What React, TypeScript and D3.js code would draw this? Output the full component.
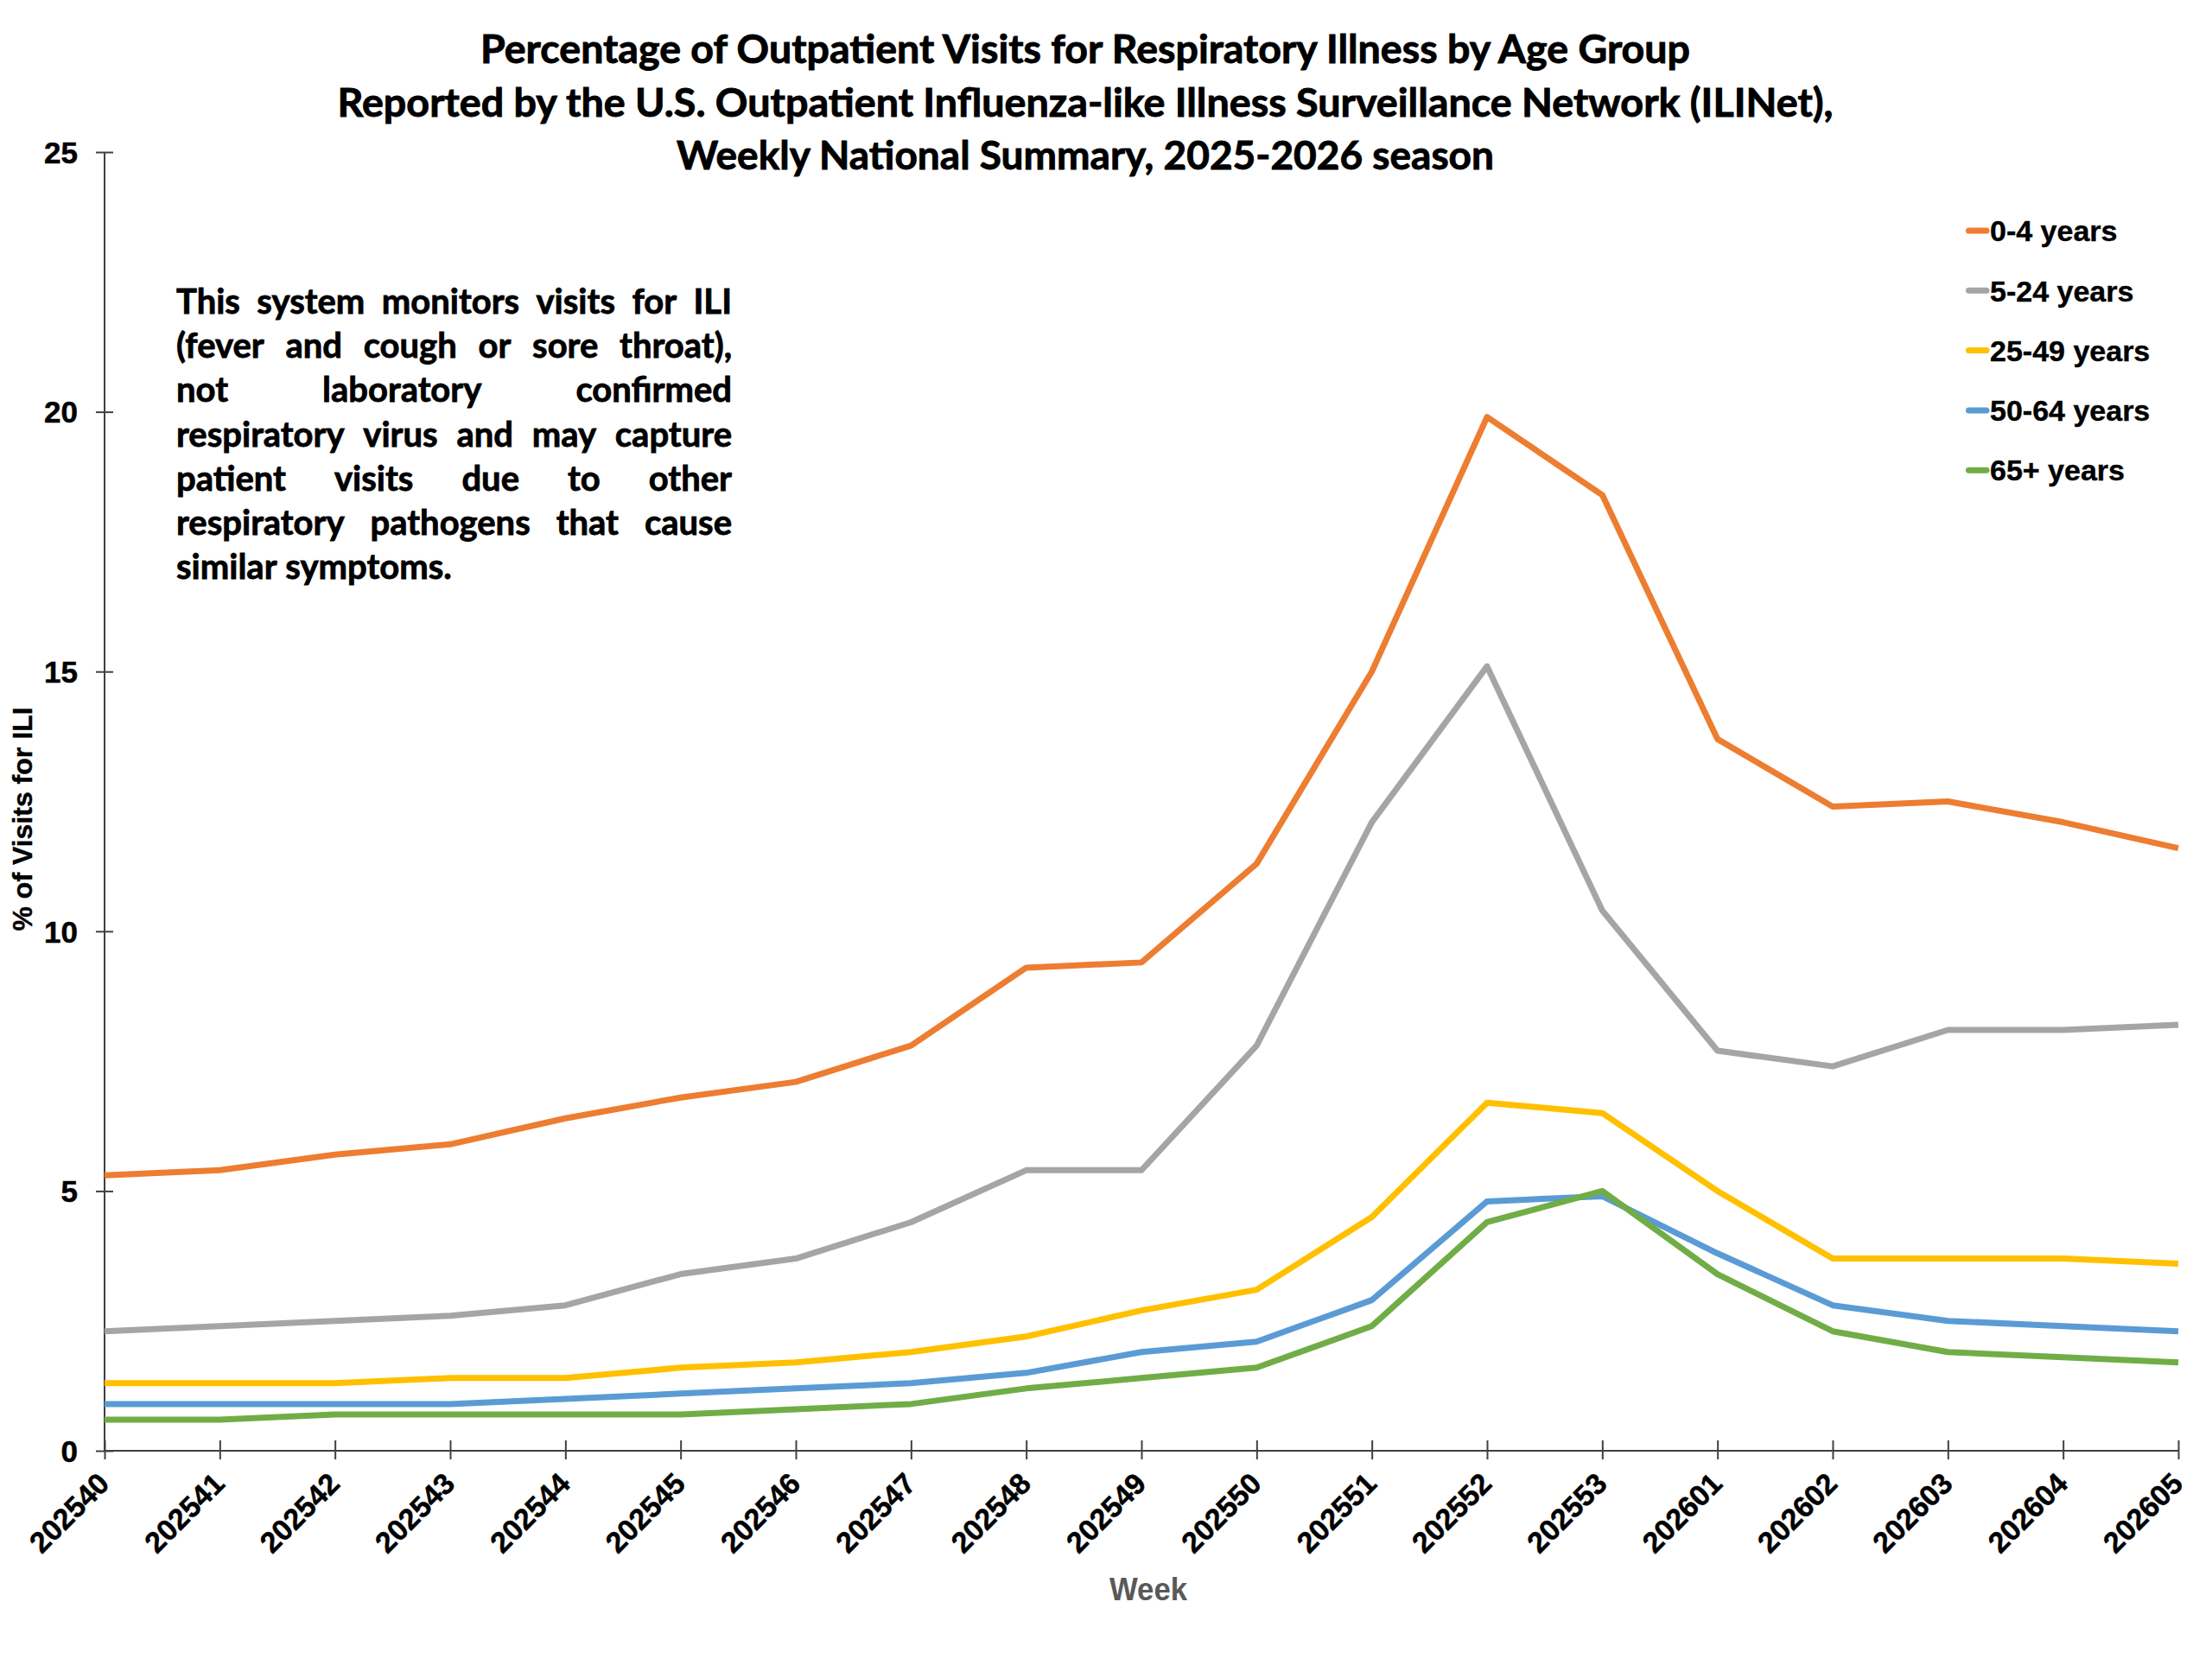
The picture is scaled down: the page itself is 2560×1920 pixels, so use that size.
import React, { useEffect, useRef } from 'react'
import * as d3 from 'd3'

const weeks = [
  '202540', '202541', '202542', '202543', '202544', '202545', '202546',
  '202547', '202548', '202549', '202550', '202551', '202552', '202553',
  '202601', '202602', '202603', '202604', '202605',
]

const age0to4 = [5.3, 5.4, 5.7, 5.9, 6.4, 6.8, 7.1, 7.8, 9.3, 9.4, 11.3, 15.0, 19.9, 18.4, 13.7, 12.4, 12.5, 12.1, 11.6]
const age5to24 = [2.3, 2.4, 2.5, 2.6, 2.8, 3.4, 3.7, 4.4, 5.4, 5.4, 7.8, 12.1, 15.1, 10.4, 7.7, 7.4, 8.1, 8.1, 8.2]
const age25to49 = [1.3, 1.3, 1.3, 1.4, 1.4, 1.6, 1.7, 1.9, 2.2, 2.7, 3.1, 4.5, 6.7, 6.5, 5.0, 3.7, 3.7, 3.7, 3.6]
const age50to64 = [0.9, 0.9, 0.9, 0.9, 1.0, 1.1, 1.2, 1.3, 1.5, 1.9, 2.1, 2.9, 4.8, 4.9, 3.8, 2.8, 2.5, 2.4, 2.3]
const age65plus = [0.6, 0.6, 0.7, 0.7, 0.7, 0.7, 0.8, 0.9, 1.2, 1.4, 1.6, 2.4, 4.4, 5.0, 3.4, 2.3, 1.9, 1.8, 1.7]

const seriesNames = ['0-4 years', '5-24 years', '25-49 years', '50-64 years', '65+ years']
const seriesColors = ['#ED7D31', '#A5A5A5', '#FFC000', '#5B9BD5', '#70AD47']
const yTicks = [0, 5, 10, 15, 20, 25]

const titleLines = [
  'Percentage of Outpatient Visits for Respiratory Illness by Age Group',
  'Reported by the U.S. Outpatient Influenza-like Illness Surveillance Network (ILINet),',
  'Weekly National Summary, 2025-2026 season',
]

const noteLines = [
  'This system monitors visits for ILI',
  '(fever and cough or sore throat),',
  'not laboratory confirmed',
  'respiratory virus and may capture',
  'patient visits due to other',
  'respiratory pathogens that cause',
  'similar symptoms.',
]

const calibriLike = "Lato, 'Open Sans', sans-serif"
const arialLike = "'Liberation Sans', Arial, sans-serif"

const App: React.FC = () => {
  const ref = useRef<SVGSVGElement>(null)

  useEffect(() => {
    renderChart()
  }, [])

  const renderChart = () => {
    const width = 2560
    const height = 1920
    const left = 121
    const right = 2521
    const top = 176
    const bottom = 1679

    const svg = d3.select(ref.current)
    svg.selectAll('*').remove()
    svg.attr('width', width).attr('height', height)

    svg.append('rect').attr('width', width).attr('height', height).attr('fill', '#fff')

    /* Scales */
    const xScale = d3.scalePoint<string>().domain(weeks).range([left, right])
    const yScale = d3.scaleLinear().domain([0, 25]).range([bottom, top])

    /* Title */
    const titleWidths = [1400, 1731, 946]
    svg
      .append('g')
      .selectAll('text')
      .data(titleLines)
      .enter()
      .append('text')
      .attr('x', 1256)
      .attr('y', (d, i) => 73 + i * 61.5)
      .attr('text-anchor', 'middle')
      .attr('font-family', calibriLike)
      .attr('font-weight', 'bold')
      .attr('font-size', 46)
      .attr('stroke', '#000')
      .attr('stroke-width', 0.9)
      .attr('textLength', (d, i) => titleWidths[i])
      .attr('lengthAdjust', 'spacingAndGlyphs')
      .text((d) => d)

    /* Axes */
    const axisColor = '#404040'
    const yAxis = d3.axisLeft(yScale).tickValues(yTicks).tickSize(0).tickFormat((d: any) => `${d}`)
    const gy = svg
      .append('g')
      .attr('transform', `translate(${left},0)`)
      .call(yAxis)
    gy.select('.domain').remove()
    gy.selectAll('.tick text')
      .attr('x', -31)
      .attr('dy', '0.35em')
      .attr('fill', '#000')
      .attr('stroke', '#000')
      .attr('stroke-width', 0.5)
      .attr('font-family', arialLike)
      .attr('font-weight', 'bold')
      .attr('font-size', 35)
    gy.selectAll('.tick')
      .append('line')
      .attr('x1', -10)
      .attr('x2', 10)
      .attr('stroke', axisColor)
      .attr('stroke-width', 2)

    const xAxis = d3.axisBottom(xScale).tickSize(0)
    const gx = svg
      .append('g')
      .attr('transform', `translate(0,${bottom})`)
      .call(xAxis)
    gx.select('.domain').remove()
    gx.selectAll('.tick text')
      .attr('y', 0)
      .attr('dy', 0)
      .attr('transform', 'translate(7,40) rotate(-45)')
      .attr('text-anchor', 'end')
      .attr('fill', '#000')
      .attr('stroke', '#000')
      .attr('stroke-width', 0.5)
      .attr('font-family', arialLike)
      .attr('font-weight', 'bold')
      .attr('font-size', 34)
    gx.selectAll('.tick')
      .append('line')
      .attr('y1', -12)
      .attr('y2', 10)
      .attr('stroke', axisColor)
      .attr('stroke-width', 2)

    svg
      .append('line')
      .attr('x1', left)
      .attr('x2', left)
      .attr('y1', top)
      .attr('y2', bottom)
      .attr('stroke', axisColor)
      .attr('stroke-width', 2)
    svg
      .append('line')
      .attr('x1', left)
      .attr('x2', right)
      .attr('y1', bottom)
      .attr('y2', bottom)
      .attr('stroke', axisColor)
      .attr('stroke-width', 2)

    // axis titles
    svg
      .append('text')
      .attr('transform', 'translate(37,948) rotate(-90)')
      .attr('text-anchor', 'middle')
      .attr('font-family', arialLike)
      .attr('font-weight', 'bold')
      .attr('font-size', 32)
      .attr('stroke', '#000')
      .attr('stroke-width', 0.4)
      .attr('fill', '#000')
      .text('% of Visits for ILI')

    svg
      .append('text')
      .attr('x', 1329)
      .attr('y', 1852)
      .attr('text-anchor', 'middle')
      .attr('font-family', arialLike)
      .attr('font-weight', 'bold')
      .attr('font-size', 37)
      .attr('textLength', 90)
      .attr('lengthAdjust', 'spacingAndGlyphs')
      .attr('fill', '#595959')
      .text('Week')

    /* Lines */
    const allSeries = [age0to4, age5to24, age25to49, age50to64, age65plus]
    const line = d3
      .line<number>()
      .x((d, i) => xScale(weeks[i]) as number)
      .y((d) => yScale(d))

    svg
      .append('g')
      .selectAll('path')
      .data(allSeries)
      .enter()
      .append('path')
      .attr('d', (d) => line(d))
      .attr('fill', 'none')
      .attr('stroke', (d, i) => seriesColors[i])
      .attr('stroke-width', 7)
      .attr('stroke-linejoin', 'round')

    /* Legend */
    const legend = svg
      .append('g')
      .selectAll('g')
      .data(seriesNames)
      .enter()
      .append('g')
      .attr('transform', (d, i) => `translate(2275,${267 + i * 69.3})`)
    legend
      .append('line')
      .attr('x1', 3.5)
      .attr('x2', 24)
      .attr('stroke', (d, i) => seriesColors[i])
      .attr('stroke-width', 7)
      .attr('stroke-linecap', 'round')
    legend
      .append('text')
      .attr('x', 28)
      .attr('dy', '0.36em')
      .attr('font-family', arialLike)
      .attr('font-weight', 'bold')
      .attr('font-size', 34)
      .attr('stroke', '#000')
      .attr('stroke-width', 0.4)
      .attr('fill', '#000')
      .text((d) => d)

    /* Note, justified */
    const noteSize = 40
    const noteLeft = 204
    const noteRight = 847
    const ctx = document.createElement('canvas').getContext('2d') as CanvasRenderingContext2D
    ctx.font = `bold ${noteSize}px ${calibriLike}`
    const note = svg
      .append('g')
      .attr('font-family', calibriLike)
      .attr('font-weight', 'bold')
      .attr('font-size', noteSize)
      .attr('stroke', '#000')
      .attr('stroke-width', 0.8)
      .attr('fill', '#000')
    noteLines.forEach((ln, i) => {
      const words = ln.split(' ')
      const y = 363 + i * 51.2
      const last = i === noteLines.length - 1
      const widths = words.map((w) => ctx.measureText(w).width)
      const total = d3.sum(widths)
      const gap = last ? ctx.measureText(' ').width : (noteRight - noteLeft - total) / (words.length - 1)
      let x = noteLeft
      words.forEach((w, j) => {
        note.append('text').attr('x', x).attr('y', y).text(w)
        x += widths[j] + gap
      })
    })
  }

  return <svg ref={ref} style={{ position: 'absolute', left: 0, top: 0 }} />
}

export default App
